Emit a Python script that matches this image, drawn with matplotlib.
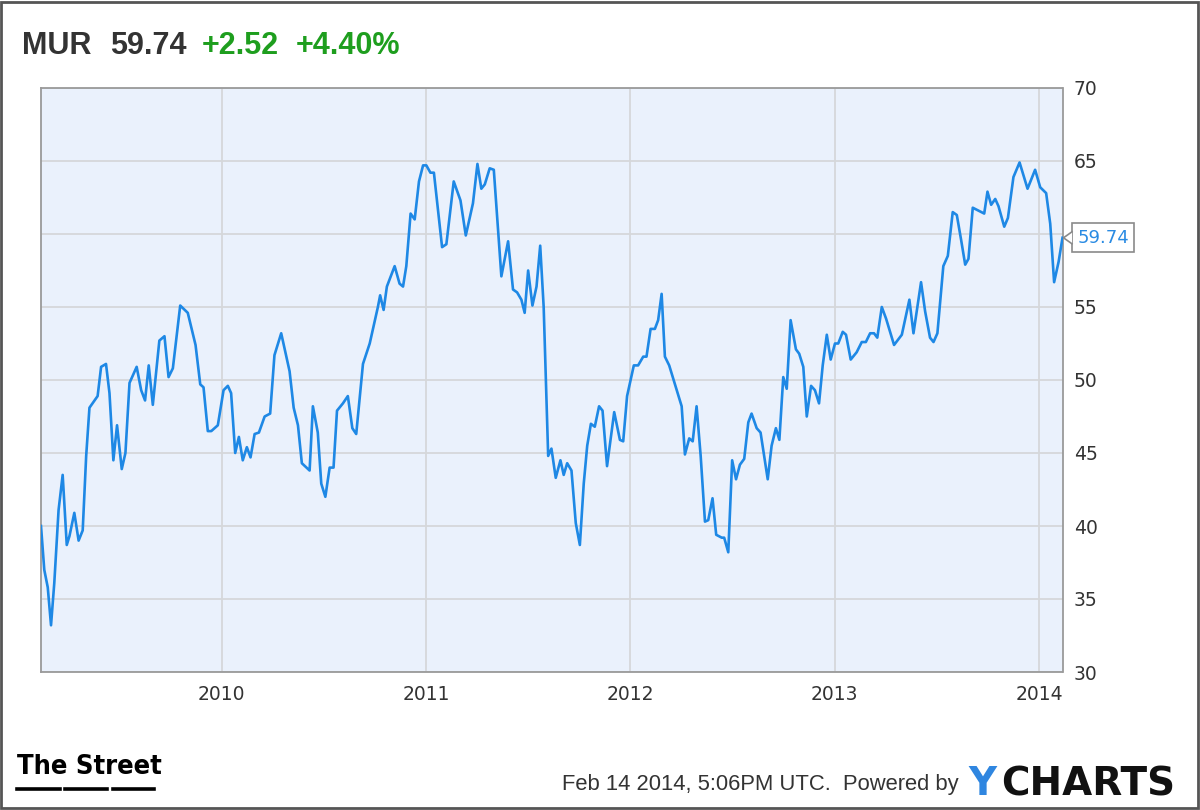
import matplotlib
matplotlib.use('Agg')
import matplotlib.pyplot as plt
import matplotlib.transforms as mtransforms
from matplotlib.patches import Polygon, Rectangle
from matplotlib.lines import Line2D

# header
ticker = 'MUR'
last_price = '59.74'
change = '+2.52'
change_pct = '+4.40%'
stamp = 'Feb 14 2014, 5:06PM UTC.  Powered by'

# weekly-ish closes (decimal year, price)
t = [2009.117, 2009.133, 2009.150, 2009.166, 2009.182, 2009.203, 2009.223, 2009.243, 2009.256, 2009.280,
     2009.301, 2009.321, 2009.338, 2009.354, 2009.394, 2009.411, 2009.435, 2009.452, 2009.471, 2009.489,
     2009.512, 2009.530, 2009.550, 2009.585, 2009.607, 2009.626, 2009.644, 2009.664, 2009.696, 2009.721,
     2009.741, 2009.762, 2009.798, 2009.835, 2009.873, 2009.896, 2009.912, 2009.933, 2009.950, 2009.982,
     2010.010, 2010.031, 2010.047, 2010.067, 2010.085, 2010.104, 2010.124, 2010.142, 2010.162, 2010.183,
     2010.211, 2010.238, 2010.259, 2010.292, 2010.333, 2010.353, 2010.374, 2010.393, 2010.431, 2010.447,
     2010.471, 2010.488, 2010.508, 2010.529, 2010.548, 2010.565, 2010.594, 2010.618, 2010.640, 2010.659,
     2010.692, 2010.725, 2010.765, 2010.776, 2010.793, 2010.809, 2010.847, 2010.871, 2010.888, 2010.904,
     2010.925, 2010.945, 2010.966, 2010.986, 2011.002, 2011.022, 2011.039, 2011.079, 2011.100, 2011.136,
     2011.169, 2011.195, 2011.230, 2011.252, 2011.271, 2011.288, 2011.312, 2011.332, 2011.369, 2011.402,
     2011.426, 2011.446, 2011.467, 2011.483, 2011.500, 2011.521, 2011.541, 2011.559, 2011.576, 2011.598,
     2011.614, 2011.635, 2011.658, 2011.674, 2011.691, 2011.712, 2011.733, 2011.753, 2011.772, 2011.789,
     2011.807, 2011.826, 2011.847, 2011.864, 2011.886, 2011.921, 2011.949, 2011.965, 2011.984, 2012.017,
     2012.038, 2012.063, 2012.079, 2012.099, 2012.120, 2012.136, 2012.153, 2012.169, 2012.190, 2012.251,
     2012.267, 2012.288, 2012.305, 2012.324, 2012.344, 2012.365, 2012.381, 2012.402, 2012.420, 2012.447,
     2012.459, 2012.479, 2012.498, 2012.517, 2012.536, 2012.557, 2012.577, 2012.593, 2012.618, 2012.637,
     2012.672, 2012.691, 2012.712, 2012.729, 2012.748, 2012.765, 2012.784, 2012.810, 2012.826, 2012.846,
     2012.863, 2012.884, 2012.903, 2012.923, 2012.941, 2012.961, 2012.980, 2013.001, 2013.017, 2013.039,
     2013.055, 2013.078, 2013.107, 2013.132, 2013.152, 2013.173, 2013.192, 2013.208, 2013.230, 2013.251,
     2013.290, 2013.328, 2013.365, 2013.385, 2013.422, 2013.442, 2013.466, 2013.483, 2013.502, 2013.531,
     2013.553, 2013.577, 2013.597, 2013.618, 2013.638, 2013.654, 2013.675, 2013.703, 2013.731, 2013.747,
     2013.765, 2013.785, 2013.801, 2013.829, 2013.847, 2013.874, 2013.904, 2013.943, 2013.980, 2014.005,
     2014.034, 2014.054, 2014.073, 2014.095, 2014.114]

price = [40.0, 37.0, 35.8, 33.2, 36.1, 41.1, 43.5, 38.7, 39.3, 40.9,
         39.0, 39.7, 44.8, 48.1, 48.9, 50.9, 51.1, 49.1, 44.5, 46.9,
         43.9, 45.0, 49.8, 50.9, 49.3, 48.6, 51.0, 48.3, 52.7, 53.0,
         50.2, 50.8, 55.1, 54.6, 52.4, 49.7, 49.5, 46.5, 46.5, 46.9,
         49.3, 49.6, 49.1, 45.0, 46.1, 44.5, 45.4, 44.7, 46.3, 46.4,
         47.5, 47.7, 51.7, 53.2, 50.6, 48.1, 46.9, 44.3, 43.8, 48.2,
         46.4, 42.9, 42.0, 44.0, 44.0, 47.9, 48.4, 48.9, 46.7, 46.3,
         51.1, 52.5, 55.0, 55.8, 54.8, 56.4, 57.8, 56.6, 56.4, 57.8,
         61.4, 61.0, 63.6, 64.7, 64.7, 64.2, 64.2, 59.1, 59.3, 63.6,
         62.3, 59.9, 62.1, 64.8, 63.1, 63.4, 64.5, 64.4, 57.1, 59.5,
         56.2, 56.0, 55.5, 54.6, 57.5, 55.1, 56.4, 59.2, 55.0, 44.8,
         45.3, 43.3, 44.5, 43.5, 44.3, 43.8, 40.2, 38.7, 42.9, 45.5,
         47.0, 46.8, 48.2, 47.9, 44.1, 47.8, 45.9, 45.8, 48.9, 51.0,
         51.0, 51.6, 51.6, 53.5, 53.5, 54.1, 55.9, 51.6, 51.0, 48.2,
         44.9, 46.0, 45.8, 48.2, 44.8, 40.3, 40.4, 41.9, 39.4, 39.2,
         39.2, 38.2, 44.5, 43.2, 44.2, 44.6, 47.1, 47.7, 46.7, 46.4,
         43.2, 45.5, 46.7, 45.9, 50.2, 49.4, 54.1, 52.1, 51.8, 50.9,
         47.5, 49.6, 49.3, 48.4, 51.0, 53.1, 51.4, 52.5, 52.5, 53.3,
         53.1, 51.4, 51.9, 52.6, 52.6, 53.2, 53.2, 52.9, 55.0, 54.2,
         52.4, 53.1, 55.5, 53.2, 56.7, 54.7, 52.9, 52.6, 53.2, 57.8,
         58.5, 61.5, 61.3, 59.6, 57.9, 58.3, 61.8, 61.6, 61.4, 62.9,
         62.0, 62.4, 61.9, 60.5, 61.1, 63.9, 64.9, 63.1, 64.4, 63.2,
         62.8, 60.7, 56.7, 58.1, 59.74]

year_ticks = [2010, 2011, 2012, 2013, 2014]
price_ticks = [30, 35, 40, 45, 50, 55, 60, 65, 70]

W, H = 1200, 810
LINE = '#1E88E5'
GREEN = '#1E9E1E'
DARK = '#333333'


def px(x, y):
    # pixel position (from top-left) to figure fraction
    return x / W, 1 - y / H


fig = plt.figure(figsize=(12, 8.1), dpi=100)
fig.patch.set_facecolor('white')

ax = fig.add_axes([41 / W, 1 - 672 / H, (1062.5 - 41) / W, 584 / H])
ax.set_facecolor('#EAF1FC')
ax.plot(t, price, color=LINE, lw=1.9, solid_joinstyle='round', zorder=3)
ax.set_xlim(t[0], t[-1])
ax.set_ylim(30, 70)
ax.set_xticks(year_ticks)
ax.set_xticklabels([str(y) for y in year_ticks])
ax.set_yticks(price_ticks)
# the 60 label sits under the last-price callout
ax.set_yticklabels(['' if p == 60 else str(p) for p in price_ticks])
ax.yaxis.tick_right()
ax.tick_params(length=0, labelsize=13.5, labelcolor=DARK)
ax.tick_params(axis='y', pad=8)
ax.tick_params(axis='x', pad=9)
ax.grid(True, color='#D5D7DA', lw=1.3)
ax.set_axisbelow(True)
for s in ax.spines.values():
    s.set_color('#9A9A9A')
    s.set_linewidth(1.3)

# last price callout
ax.annotate(last_price, xy=(t[-1], price[-1]), xytext=(10.5, 0), textcoords='offset points',
            va='center', ha='left', fontsize=13, color='#2A8BE3', zorder=6,
            bbox=dict(boxstyle='square,pad=0.3', fc='white', ec='#8A8A8A', lw=1.2),
            annotation_clip=False)
tip = mtransforms.Affine2D() + mtransforms.ScaledTranslation(t[-1], price[-1], ax.transData)
fig.patches.append(Polygon([(1, 0), (9.5, 6), (9.5, -6)], closed=True, fc='white', ec='none',
                           transform=tip, figure=fig, zorder=7))
fig.lines.append(Line2D([9.5, 1, 9.5], [6, 0, -6], color='#8A8A8A', lw=1.2,
                        transform=tip, figure=fig, zorder=8))

# header
hdr = dict(fontsize=22, fontweight='bold', family='Liberation Sans', va='baseline')
fig.text(*px(22, 54), ticker, color=DARK, **hdr)
fig.text(*px(110, 54), last_price, color=DARK, **hdr)
fig.text(*px(202, 54), change, color=GREEN, **hdr)
fig.text(*px(296, 54), change_pct, color=GREEN, **hdr)

# footer: The Street logo
fig.text(*px(17, 774), 'The Street', fontsize=19.5, fontweight='bold', fontstretch='condensed',
         color='black', family='DejaVu Sans', va='baseline')
for x0, x1 in [(17, 60), (65, 107), (113, 154)]:
    fig.lines.append(Line2D([x0 / W, x1 / W], [1 - 789 / H, 1 - 789 / H], color='black', lw=2.6,
                            transform=fig.transFigure, figure=fig))

fig.text(*px(562, 790), stamp, fontsize=15.8, color=DARK, family='Liberation Sans', va='baseline')
fig.text(*px(968, 795), 'Y', fontsize=28, fontweight='bold', color='#2F86E0',
         family='DejaVu Sans', va='baseline')
fig.text(*px(1001, 795), 'CHARTS', fontsize=28, fontweight='bold', color='#111111',
         family='DejaVu Sans', va='baseline')

# outer frame
fig.patches.append(Rectangle((0.001, 0.002), 0.997, 0.996, transform=fig.transFigure, fill=False,
                             ec='#555555', lw=2, figure=fig))

fig.savefig('out.png', dpi=100)
